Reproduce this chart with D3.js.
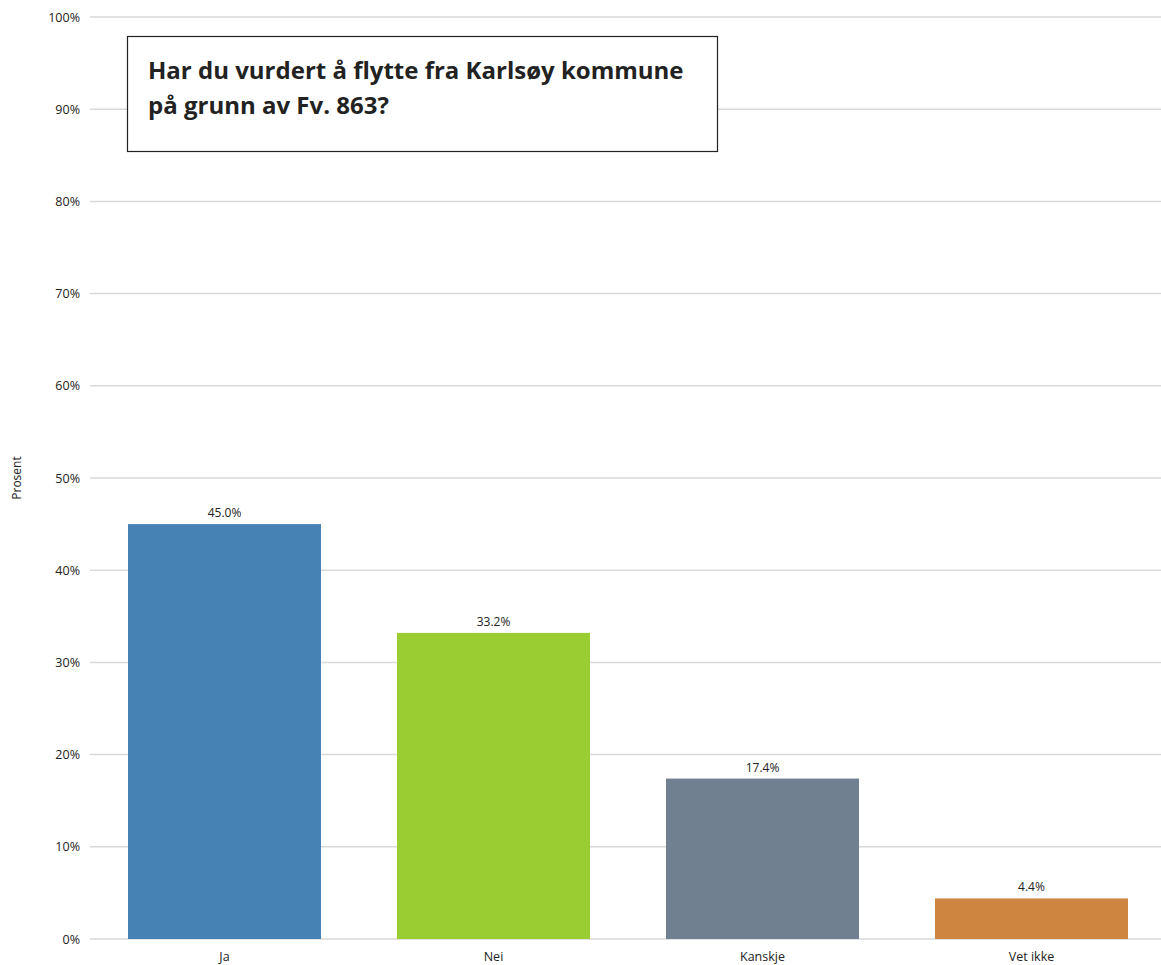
<!DOCTYPE html>
<html>
<head>
<meta charset="utf-8">
<script src="https://cdn.jsdelivr.net/npm/d3@7"></script>
<style>
  html, body { margin: 0; padding: 0; background: #fff; }
  svg { display: block; }
  text { font-family: "Open Sans", "Liberation Sans", sans-serif; fill: #222; }
</style>
</head>
<body>
<svg id="chart" width="1161" height="965"></svg>
<script>
// Survey answers (percent)
const categories = ["Ja", "Nei", "Kanskje", "Vet ikke"];
const values = [45.0, 33.2, 17.4, 4.4];
const colors = ["#4682B4", "#9ACD32", "#708090", "#CD853F"];
const tickValues = [0, 10, 20, 30, 40, 50, 60, 70, 80, 90, 100];
const titleLines = ["Har du vurdert å flytte fra Karlsøy kommune", "på grunn av Fv. 863?"];
const yAxisTitle = "Prosent";

const svg = d3.select("#chart");
const margin = { left: 90, top: 17, bottom: 939 };

const x = d3.scaleBand()
  .domain(categories)
  .range([margin.left, margin.left + 1076])
  .paddingInner(0.2825)
  .paddingOuter(0.14125);

const y = d3.scaleLinear().domain([0, 100]).range([margin.bottom, margin.top]);

// Horizontal gridlines
svg.append("g")
  .selectAll("line")
  .data(tickValues)
  .join("line")
  .attr("x1", margin.left)
  .attr("x2", 1161)
  .attr("y1", d => y(d))
  .attr("y2", d => y(d))
  .attr("stroke", "#d9d9d9")
  .attr("stroke-width", 1.5);

// Y axis labels
const yAxis = d3.axisLeft(y).tickValues(tickValues).tickFormat(d => d + "%").tickSize(0).tickPadding(10);
const gy = svg.append("g").attr("transform", `translate(${margin.left},0)`).call(yAxis);
gy.select(".domain").remove();
gy.selectAll("text").style("font-size", "12.5px").style("font-family", "'Open Sans', sans-serif").attr("fill", "#222");

// Bars
svg.append("g")
  .selectAll("rect")
  .data(categories)
  .join("rect")
  .attr("x", d => x(d))
  .attr("width", x.bandwidth())
  .attr("y", (d, i) => y(values[i]))
  .attr("height", (d, i) => y(0) - y(values[i]))
  .attr("fill", (d, i) => colors[i]);

// Value labels
svg.append("g")
  .selectAll("text")
  .data(categories)
  .join("text")
  .attr("x", d => x(d) + x.bandwidth() / 2)
  .attr("y", (d, i) => y(values[i]) - 7)
  .attr("text-anchor", "middle")
  .style("font-size", "12px")
  .text((d, i) => values[i].toFixed(1) + "%");

// Category labels
const xAxis = d3.axisBottom(x).tickSize(0).tickPadding(13);
const gx = svg.append("g").attr("transform", `translate(0,${margin.bottom})`).call(xAxis);
gx.select(".domain").remove();
gx.selectAll("text").style("font-size", "12.5px").style("font-family", "'Open Sans', sans-serif").attr("fill", "#222");

// Y axis title
svg.append("text")
  .attr("transform", `translate(21,${(margin.top + margin.bottom) / 2}) rotate(-90)`)
  .attr("text-anchor", "middle")
  .style("font-size", "12px")
  .text(yAxisTitle);

// Title box
svg.append("rect")
  .attr("x", 127.5).attr("y", 36.5)
  .attr("width", 590).attr("height", 115)
  .attr("fill", "#fff")
  .attr("stroke", "#222")
  .attr("stroke-width", 1.2);

svg.append("g")
  .selectAll("text")
  .data(titleLines)
  .join("text")
  .attr("x", 148)
  .attr("y", (d, i) => 79 + i * 35)
  .style("font-size", "24px")
  .style("font-weight", "bold")
  .attr("fill", "#000")
  .text(d => d);
</script>
</body>
</html>
